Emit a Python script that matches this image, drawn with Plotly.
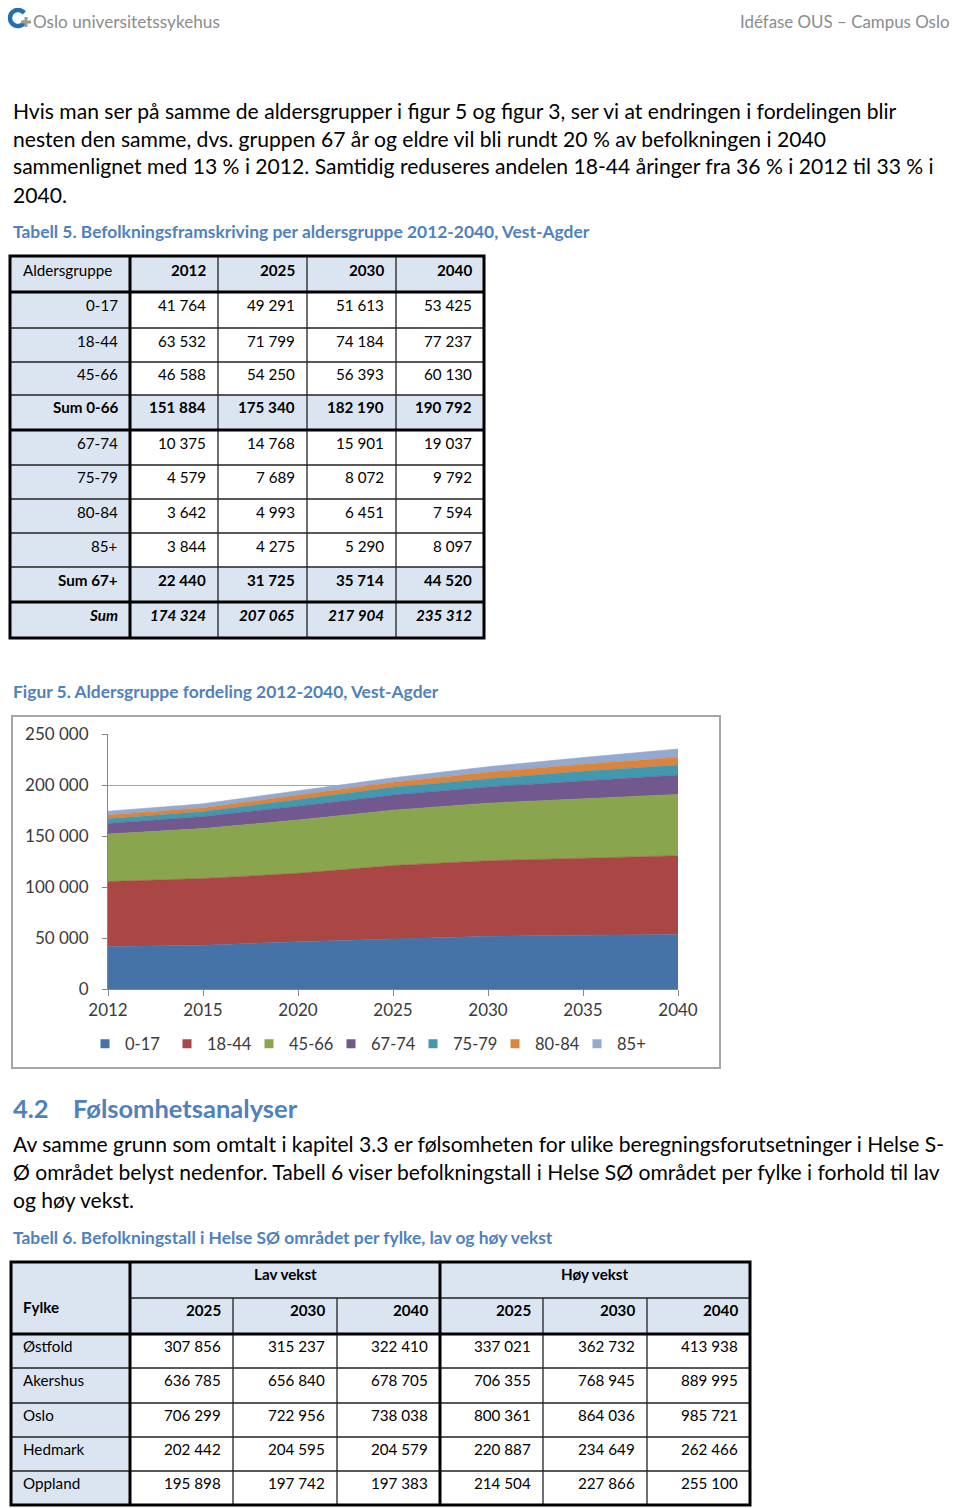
import math
import plotly.graph_objects as go

PAGE_W, PAGE_H = 960, 1508
OFF = 8  # default body margin of the html page
W, H = PAGE_W - 2 * OFF, PAGE_H - OFF
FONT = "Lato"

# ---------------- data ----------------
years = ["2012", "2015", "2020", "2025", "2030", "2035", "2040"]
age_groups = ["0-17", "18-44", "45-66", "67-74", "75-79", "80-84", "85+"]
pop_0_17 = [41764, 42900, 46400, 49291, 51613, 52800, 53425]
pop_18_44 = [63532, 65400, 67000, 71799, 74184, 75600, 77237]
pop_45_66 = [46588, 49000, 52300, 54250, 56393, 58300, 60130]
pop_67_74 = [10375, 11800, 13500, 14768, 15901, 17600, 19037]
pop_75_79 = [4579, 4900, 6500, 7689, 8072, 9100, 9792]
pop_80_84 = [3642, 3700, 4500, 4993, 6451, 7000, 7594]
pop_85p = [3844, 3900, 4100, 4275, 5290, 6600, 8097]
series = [pop_0_17, pop_18_44, pop_45_66, pop_67_74, pop_75_79, pop_80_84, pop_85p]
y_ticks = [0, 50000, 100000, 150000, 200000, 250000]
area_colors = ["#4572A7", "#AA4643", "#89A54E", "#71588F", "#4198AF", "#DB843D", "#93A9CF"]

# Table 5
t5_years = ["2012", "2025", "2030", "2040"]
t5_labels = ["0-17", "18-44", "45-66", "Sum 0-66", "67-74", "75-79", "80-84", "85+", "Sum 67+", "Sum"]
t5_rows = [
    [41764, 49291, 51613, 53425],
    [63532, 71799, 74184, 77237],
    [46588, 54250, 56393, 60130],
    [151884, 175340, 182190, 190792],
    [10375, 14768, 15901, 19037],
    [4579, 7689, 8072, 9792],
    [3642, 4993, 6451, 7594],
    [3844, 4275, 5290, 8097],
    [22440, 31725, 35714, 44520],
    [174324, 207065, 217904, 235312],
]

# Table 6
t6_groups = ["Lav vekst", "Høy vekst"]
t6_years = ["2025", "2030", "2040"]
fylker = ["Østfold", "Akershus", "Oslo", "Hedmark", "Oppland"]
lav_2025 = [307856, 636785, 706299, 202442, 195898]
lav_2030 = [315237, 656840, 722956, 204595, 197742]
lav_2040 = [322410, 678705, 738038, 204579, 197383]
hoy_2025 = [337021, 706355, 800361, 220887, 214504]
hoy_2030 = [362732, 768945, 864036, 234649, 227866]
hoy_2040 = [413938, 889995, 985721, 262466, 255100]
t6_cols = [lav_2025, lav_2030, lav_2040, hoy_2025, hoy_2030, hoy_2040]

body1 = [
    "Hvis man ser på samme de aldersgrupper i figur 5 og figur 3, ser vi at endringen i fordelingen blir",
    "nesten den samme, dvs. gruppen 67 år og eldre vil bli rundt 20 % av befolkningen i 2040",
    "sammenlignet med 13 % i 2012. Samtidig reduseres andelen 18-44 åringer fra 36 % i 2012 til 33 % i",
    "2040.",
]
body2 = [
    "Av samme grunn som omtalt i kapitel 3.3 er følsomheten for ulike beregningsforutsetninger i Helse S-",
    "Ø området belyst nedenfor. Tabell 6 viser befolkningstall i Helse SØ området per fylke i forhold til lav",
    "og høy vekst.",
]
cap5 = "Tabell 5. Befolkningsframskriving per aldersgruppe 2012-2040, Vest-Agder"
capf5 = "Figur 5. Aldersgruppe fordeling 2012-2040, Vest-Agder"
cap6 = "Tabell 6. Befolkningstall i Helse SØ området per fylke, lav og høy vekst"


def fmt(v):
    return f"{v:,}".replace(",", " ")


def px(x):
    return (x - OFF) / W


def py(y):
    return 1 - (y - OFF) / H


shapes = []
annotations = []
CAP = "#4F81BD"
HDR = "#DBE5F1"
BODY = 21.1
CAPS = 17.4
TS = 15.2


def text(x, y, s, size, color="#000000", bold=False, italic=False, anchor="left"):
    if italic:
        s = f"<i>{s}</i>"
    if bold:
        s = f"<b>{s}</b>"
    annotations.append(dict(x=px(x), y=py(y), xref="paper", yref="paper", text=s,
                            showarrow=False, xanchor=anchor, yanchor="middle",
                            borderpad=0,
                            font=dict(family=FONT, size=size, color=color)))


def rect(x0, y0, x1, y1, fill=None, line=None, lw=0, layer="above"):
    d = dict(type="rect", xref="paper", yref="paper", x0=px(x0), x1=px(x1),
             y0=py(y1), y1=py(y0), layer=layer)
    d["fillcolor"] = fill if fill else "rgba(0,0,0,0)"
    d["line"] = dict(color=line if line else "rgba(0,0,0,0)", width=lw)
    shapes.append(d)


def hline(x0, x1, y, lw, color="#000000"):
    shapes.append(dict(type="line", xref="paper", yref="paper", x0=px(x0), x1=px(x1),
                       y0=py(y), y1=py(y), line=dict(color=color, width=lw)))


def vline(x, y0, y1, lw, color="#000000"):
    shapes.append(dict(type="line", xref="paper", yref="paper", x0=px(x), x1=px(x),
                       y0=py(y0), y1=py(y1), line=dict(color=color, width=lw)))


# ---------------- header ----------------
arc = []
for i in range(0, 41):
    a = math.radians(-25 - i * 7.4)
    arc.append((18 + 8 * math.cos(a), 18 - 8 * math.sin(a)))
path = "M " + " L ".join(f"{px(x):.5f},{py(y):.5f}" for x, y in arc)
shapes.append(dict(type="path", xref="paper", yref="paper", path=path,
                   line=dict(color="#1F6FB5", width=4.5)))
rect(21, 20.5, 31, 23.5, fill="#9A9A9A")
rect(24.5, 17, 27.5, 27, fill="#9A9A9A")
text(32, 21, "Oslo universitetssykehus", 17.2, color="#8C8C8C")
text(951, 21, "Idéfase OUS – Campus Oslo", 16.9, color="#8C8C8C", anchor="right")

# ---------------- body text ----------------
for i, line in enumerate(body1):
    text(12, 110 + 28 * i, line, BODY)
text(12, 232, cap5, CAPS, color=CAP, bold=True)

# ---------------- table 5 ----------------
c5 = [10, 130, 218, 307, 396, 484]
r5 = [256, 292, 328, 362, 395, 430, 465, 499, 533, 567, 602, 638]
sum_rows = {3, 8, 9}
rect(c5[0], r5[0], c5[-1], r5[1], fill=HDR)
rect(c5[0], r5[1], c5[1], r5[-1], fill=HDR)
for i in sum_rows:
    rect(c5[1], r5[i + 1], c5[-1], r5[i + 2], fill=HDR)
for x in c5[2:-1]:
    vline(x, r5[0], r5[-1], 1.3, "#222222")
for y in r5[2:-1]:
    if y not in (430, 602):
        hline(c5[0], c5[-1], y, 1.3, "#222222")
for y in (292, 430, 602):
    hline(c5[0], c5[-1], y, 3)
vline(c5[1], r5[0], r5[-1], 3)
rect(c5[0], r5[0], c5[-1], r5[-1], line="#000000", lw=3)

text(22, r5[0] + 14, "Aldersgruppe", TS)
for j, yr in enumerate(t5_years):
    text(c5[j + 2] - 11, r5[0] + 14, yr, TS, bold=True, anchor="right")
for i, lab in enumerate(t5_labels):
    yy = r5[i + 1] + 12.5
    b = i in sum_rows
    it = i == 9
    text(c5[1] - 11, yy, lab, TS, bold=b, italic=it, anchor="right")
    for j, v in enumerate(t5_rows[i]):
        text(c5[j + 2] - 11, yy, fmt(v), TS, bold=b, italic=it, anchor="right")

# ---------------- figure 5 ----------------
text(12, 692, capf5, CAPS, color=CAP, bold=True)
rect(12, 716, 720, 1068, fill="#FFFFFF", line="#A5A5A5", lw=2, layer="below")

# ---------------- section 4.2 ----------------
text(12, 1108, "4.2", 25.5, color=CAP, bold=True)
text(72, 1108, "Følsomhetsanalyser", 25.5, color=CAP, bold=True)
for i, line in enumerate(body2):
    text(12, 1143 + 28 * i, line, BODY)
text(12, 1237, cap6, CAPS, color=CAP, bold=True)

# ---------------- table 6 ----------------
c6 = [11, 130, 233, 337, 440, 543, 647, 750]
r6 = [1262, 1298, 1334, 1368, 1403, 1437, 1471, 1505]
rect(c6[0], r6[0], c6[-1], r6[2], fill=HDR)
rect(c6[0], r6[2], c6[1], r6[-1], fill=HDR)
hline(c6[1], c6[-1], r6[1], 1.3, "#222222")
for x in (c6[2], c6[3], c6[5], c6[6]):
    vline(x, r6[1], r6[-1], 1.3, "#222222")
for y in r6[3:-1]:
    hline(c6[0], c6[-1], y, 1.3, "#222222")
hline(c6[0], c6[-1], r6[2], 3)
vline(c6[1], r6[0], r6[-1], 3)
vline(c6[4], r6[0], r6[-1], 3)
rect(c6[0], r6[0], c6[-1], r6[-1], line="#000000", lw=3)

text(22, 1307, "Fylke", TS, bold=True)
text((c6[1] + c6[4]) / 2, r6[0] + 12, t6_groups[0], TS, bold=True, anchor="center")
text((c6[4] + c6[7]) / 2, r6[0] + 12, t6_groups[1], TS, bold=True, anchor="center")
for j in range(6):
    text(c6[j + 2] - 11, r6[1] + 12, t6_years[j % 3], TS, bold=True, anchor="right")
for i, f in enumerate(fylker):
    yy = r6[i + 2] + 12
    text(22, yy, f, TS)
    for j, col in enumerate(t6_cols):
        text(c6[j + 2] - 11, yy, fmt(col[i]), TS, anchor="right")

# ---------------- chart traces ----------------
fig = go.Figure()
for name, vals, col in zip(age_groups, series, area_colors):
    fig.add_trace(go.Scatter(x=years, y=vals, name=name, stackgroup="one", mode="lines",
                             line=dict(width=0.6, color=col), fillcolor=col,
                             showlegend=False, hoverinfo="x+y+name"))
for name, col in zip(age_groups, area_colors):
    fig.add_trace(go.Scatter(x=[None], y=[None], name=name, mode="markers",
                             marker=dict(symbol="square", size=9, color=col),
                             showlegend=True))

fig.update_layout(
    width=W, height=H,
    margin=dict(l=0, r=0, t=0, b=0, pad=0, autoexpand=False),
    paper_bgcolor="#FFFFFF", plot_bgcolor="rgba(0,0,0,0)",
    font=dict(family=FONT, color="#000000"),
    shapes=shapes, annotations=annotations,
    xaxis=dict(type="category", categoryorder="array", categoryarray=years,
               range=[0, len(years) - 1], domain=[px(108), px(678)],
               showline=True, linecolor="#868686", linewidth=1,
               ticks="outside", ticklen=6, tickcolor="#868686",
               showgrid=False, zeroline=False, automargin=False,
               tickfont=dict(family=FONT, size=17, color="#3A3A3A"), anchor="y"),
    yaxis=dict(range=[0, 250000], domain=[py(989), py(734)],
               tickvals=y_ticks, ticktext=[fmt(v) for v in y_ticks],
               showgrid=True, gridcolor="#A6A6A6", gridwidth=1,
               showline=True, linecolor="#868686", linewidth=1,
               ticks="outside", ticklen=5, tickcolor="#868686",
               zeroline=False, ticklabelstandoff=10, automargin=False,
               tickfont=dict(family=FONT, size=17, color="#3A3A3A"), anchor="x"),
    legend=dict(orientation="h", x=px(85), xanchor="left", y=py(1044), yanchor="middle",
                font=dict(family=FONT, size=16.5, color="#3A3A3A"), traceorder="normal",
                bgcolor="rgba(0,0,0,0)", itemwidth=30, tracegroupgap=0,
                entrywidth=37, entrywidthmode="pixels"),
    showlegend=True,
)

fig.write_html("out.html")
